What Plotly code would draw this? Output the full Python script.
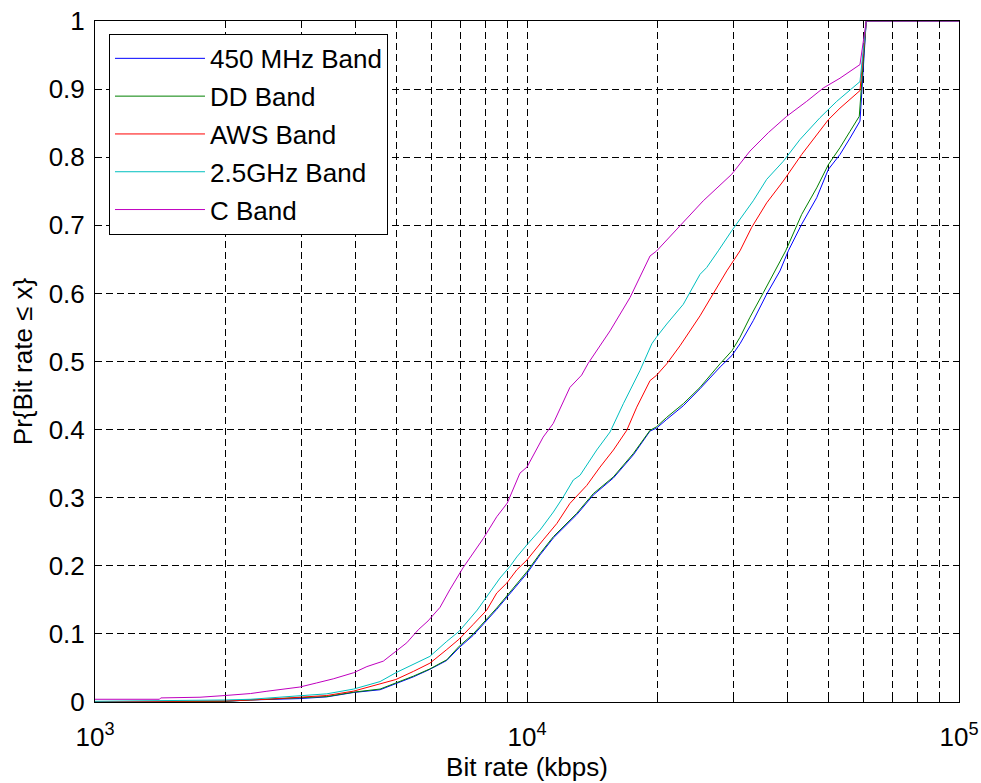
import plotly.graph_objects as go

# Empirical CDF of achievable bit rate (kbps) per frequency band
rate_450 = [1000, 2000, 2290, 2980, 3440, 3970, 4570, 4970, 5460, 5960, 6520, 6970, 7510, 8510,
            8975, 9630, 10000, 10720, 11510, 13030, 14240, 15850, 17630, 19270, 19930, 21060,
            23000, 25150, 28000, 29830, 31120, 33400, 35880, 38510, 40260, 43240, 46840, 49830,
            53030, 55940, 58990, 61000, 100000]
cdf_450 = [0.0, 0.001, 0.003, 0.005, 0.0075, 0.014, 0.018, 0.027, 0.037, 0.048, 0.061, 0.080,
           0.098, 0.136, 0.153, 0.177, 0.189, 0.216, 0.241, 0.275, 0.304, 0.329, 0.363, 0.398,
           0.402, 0.415, 0.435, 0.460, 0.492, 0.509, 0.526, 0.560, 0.599, 0.633, 0.6625, 0.7016,
           0.7405, 0.782, 0.804, 0.828, 0.853, 1.0, 1.0]

rate_dd = [1000, 2000, 2290, 2980, 3440, 3970, 4570, 4970, 5460, 5960, 6520, 6970, 7510, 8510,
           8975, 9630, 10000, 10720, 11510, 13030, 14240, 15850, 17630, 19270, 19930, 21060,
           23000, 25150, 27975, 29830, 31120, 32820, 35240, 37840, 39700, 43240, 46840, 49830,
           53030, 55940, 58770, 61000, 100000]
cdf_dd = [0.0, 0.001, 0.003, 0.006, 0.008, 0.0145, 0.019, 0.028, 0.038, 0.0486, 0.062, 0.082,
          0.100, 0.138, 0.155, 0.179, 0.1915, 0.218, 0.2428, 0.277, 0.306, 0.3306, 0.365, 0.399,
          0.404, 0.418, 0.438, 0.462, 0.4966, 0.516, 0.5356, 0.565, 0.601, 0.638, 0.6625, 0.716,
          0.755, 0.789, 0.814, 0.838, 0.860, 1.0, 1.0]

rate_aws = [1000, 2000, 2500, 2980, 3440, 3970, 4570, 4970, 5460, 5960, 6520, 6970, 7510, 8070,
            8510, 8975, 9470, 10000, 10900, 11720, 12570, 13750, 14760, 15850, 17020, 17950,
            19270, 19930, 21060, 22600, 25150, 26990, 29000, 31120, 33120, 35880, 39200, 43240,
            46840, 49830, 53030, 58990, 61000, 100000]
cdf_aws = [0.0005, 0.0015, 0.004, 0.007, 0.0095, 0.016, 0.026, 0.033, 0.045, 0.057, 0.077,
           0.0925, 0.114, 0.135, 0.160, 0.1745, 0.194, 0.2086, 0.238, 0.262, 0.2916, 0.318, 0.345,
           0.370, 0.399, 0.433, 0.472, 0.4795, 0.4966, 0.523, 0.567, 0.599, 0.633, 0.6625, 0.697,
           0.733, 0.765, 0.804, 0.833, 0.855, 0.872, 0.8978, 1.0, 1.0]

rate_25g = [1000, 1650, 2000, 2290, 2980, 3440, 3970, 4570, 4970, 5460, 5960, 6520, 6970, 7670,
            8070, 8660, 9130, 9470, 10000, 10720, 11510, 12130, 12800, 13270, 14500, 15570,
            16710, 18270, 19450, 19930, 21060, 23000, 25150, 26060, 27720, 29780, 33400, 35880,
            39200, 42850, 47670, 52110, 58990, 61000, 100000]
cdf_25g = [0.001, 0.002, 0.003, 0.004, 0.0095, 0.012, 0.019, 0.030, 0.043, 0.055, 0.067, 0.089,
           0.104, 0.135, 0.155, 0.182, 0.199, 0.213, 0.231, 0.2525, 0.279, 0.301, 0.326, 0.333,
           0.370, 0.3965, 0.438, 0.487, 0.526, 0.5356, 0.555, 0.584, 0.628, 0.638, 0.6625, 0.692,
           0.736, 0.7675, 0.794, 0.826, 0.858, 0.882, 0.911, 1.0, 1.0]

rate_c = [1000, 1410, 1420, 1750, 2000, 2290, 2500, 2730, 2980, 3260, 3560, 3970, 4260, 4650,
          4970, 5270, 5600, 5900, 6290, 6630, 7110, 7920, 8510, 9000, 9630, 10000, 10900, 11500,
          12570, 13380, 13860, 15570, 17320, 19270, 19930, 22400, 25590, 29780, 32820, 36190,
          39920, 44400, 48520, 53030, 58990, 61000, 100000]
cdf_c = [0.004, 0.004, 0.006, 0.007, 0.0095, 0.0124, 0.0158, 0.019, 0.022, 0.028, 0.034, 0.043,
         0.052, 0.060, 0.074, 0.087, 0.106, 0.119, 0.139, 0.165, 0.197, 0.240, 0.272, 0.292,
         0.336, 0.345, 0.389, 0.409, 0.462, 0.480, 0.4975, 0.545, 0.594, 0.655, 0.662, 0.697,
         0.736, 0.775, 0.809, 0.836, 0.860, 0.882, 0.9016, 0.916, 0.936, 1.0, 1.0]

band_names = ["450 MHz Band", "DD Band", "AWS Band", "2.5GHz Band", "C Band"]
band_colors = ["#0000ff", "#008000", "#ff0000", "#00bfbf", "#bf00bf"]
band_rates = [rate_450, rate_dd, rate_aws, rate_25g, rate_c]
band_cdfs = [cdf_450, cdf_dd, cdf_aws, cdf_25g, cdf_c]

# decade ticks carry labels; 2..9 x 10^k get minor ticks and grid lines
x_major = [1000, 10000, 100000]
x_major_text = ["10<sup>3</sup>", "10<sup>4</sup>", "10<sup>5</sup>"]
x_minor = [m * 10 ** k for k in (3, 4) for m in range(2, 10)]

FONT = "Liberation Sans, Arial, Helvetica, sans-serif"
FS = 26
GRID_DASH = "7px,4px"

fig = go.Figure()
for name, color, xs, ys in zip(band_names, band_colors, band_rates, band_cdfs):
    fig.add_trace(go.Scatter(
        x=xs, y=ys, mode="lines", name=name, legendgroup=name,
        line=dict(color=color, width=1),
    ))

axis_common = dict(
    showline=True, linecolor="black", linewidth=1, mirror="allticks",
    ticks="inside", ticklen=6, tickcolor="black", tickwidth=1,
    showgrid=True, gridcolor="black", gridwidth=1, griddash=GRID_DASH,
    zeroline=False, automargin=False,
    tickfont=dict(family=FONT, size=FS, color="black"),
)

fig.update_xaxes(
    type="log", range=[3, 5],
    tickmode="array", tickvals=x_major, ticktext=x_major_text,
    ticklabelstandoff=12,
    minor=dict(tickmode="array", tickvals=x_minor, ticks="inside", ticklen=6,
               tickcolor="black", showgrid=True, gridcolor="black", gridwidth=1,
               griddash=GRID_DASH),
    title=dict(text="Bit rate (kbps)", font=dict(family=FONT, size=FS, color="black"), standoff=6),
    **axis_common,
)
fig.update_yaxes(
    range=[0, 1], tick0=0, dtick=0.1,
    ticklabelstandoff=4,
    title=dict(text="Pr{Bit rate ≤ x}", font=dict(family=FONT, size=FS, color="black"), standoff=8),
    **axis_common,
)

fig.update_layout(
    width=981, height=783,
    margin=dict(l=95, r=22, t=21, b=81),
    paper_bgcolor="white", plot_bgcolor="white",
    font=dict(family=FONT, size=FS, color="black"),
    legend=dict(
        x=0.0162, y=0.981, xanchor="left", yanchor="top",
        bgcolor="white", bordercolor="black", borderwidth=1,
        font=dict(family=FONT, size=FS, color="black"),
        tracegroupgap=1, itemwidth=90,
    ),
)

fig.write_html("out.html")
